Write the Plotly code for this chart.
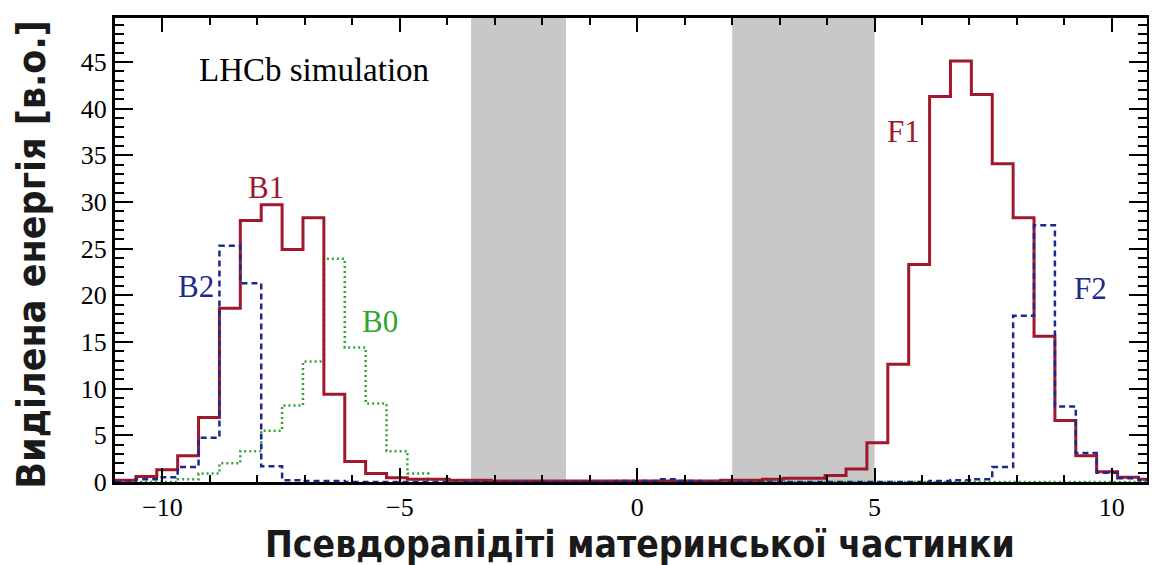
import numpy as np
import plotly.graph_objects as go

# ---- data ----
bin_lo, bin_hi, n_bins = -11.0, 11.0, 50
edges = np.linspace(bin_lo, bin_hi, n_bins + 1)

# series "1" (B1 / F1), red solid
red_vals = [0.2, 0.6, 1.3, 2.8, 6.9, 18.6, 28.0, 29.7, 24.9, 28.3,
            9.4, 2.2, 0.9, 0.45, 0.3, 0.3, 0.2, 0.2, 0.1, 0.1,
            0.1, 0.1, 0.1, 0.1, 0.1, 0.1, 0.1, 0.1, 0.1, 0.2,
            0.2, 0.3, 0.4, 0.4, 0.7, 1.4, 4.2, 12.6, 23.3, 41.3,
            45.1, 41.5, 34.1, 28.3, 15.6, 6.6, 2.8, 1.1, 0.5, 0.3]
# series "2" (B2 / F2), blue dashed
blue_vals = [0.0, 0.3, 0.5, 1.6, 4.75, 25.3, 21.3, 1.7, 0.2, 0.1,
             0.1, 0.0, 0.0, 0.0, 0.0, 0.0, 0.0, 0.0, 0.0, 0.0,
             0.0, 0.0, 0.0, 0.0, 0.1, 0.1, 0.3, 0.1, 0.0, 0.0,
             0.0, 0.0, 0.0, 0.0, 0.0, 0.0, 0.0, 0.0, 0.0, 0.1,
             0.2, 0.3, 1.6, 17.8, 27.5, 8.1, 3.1, 1.0, 0.4, 0.2]
# series "0" (B0), green dotted
green_vals = [0.0, 0.0, 0.0, 0.3, 0.9, 2.0, 3.3, 5.5, 8.2, 12.9,
              23.9, 14.4, 8.4, 3.3, 0.9, 0.3, 0.1, 0.0, 0.0, 0.0,
              0.0, 0.0, 0.0, 0.0, 0.0, 0.0, 0.0, 0.0, 0.0, 0.0,
              0.0, 0.0, 0.0, 0.0, 0.0, 0.0, 0.0, 0.0, 0.0, 0.0,
              0.0, 0.0, 0.0, 0.0, 0.0, 0.0, 0.0, 0.0, 0.0, 0.0]

bands = [(-3.5, -1.5), (2.0, 5.0)]

x_tick_vals = [-10, -5, 0, 5, 10]
y_tick_vals = [0, 5, 10, 15, 20, 25, 30, 35, 40, 45]

RED = "#a0182b"
BLUE = "#1c2a8c"
GREEN = "#2fa42f"

labels = [
    ("B1", -7.81, 31.5, RED),
    ("B2", -9.30, 20.9, BLUE),
    ("B0", -5.41, 17.2, GREEN),
    ("F1", 5.61, 37.5, RED),
    ("F2", 9.55, 20.7, BLUE),
]


def step_xy(vals):
    xs = list(edges[:-1]) + [edges[-1]]
    ys = list(vals) + [vals[-1]]
    return xs, ys


fig = go.Figure()

for x0, x1 in bands:
    fig.add_shape(type="rect", xref="x", yref="paper", x0=x0, x1=x1, y0=0, y1=1,
                  fillcolor="#c8c8c8", line_width=0, layer="below")

gx, gy = step_xy(green_vals)
fig.add_trace(go.Scatter(x=gx, y=gy, mode="lines", line_shape="hv",
                         line=dict(color=GREEN, width=2.5, dash="2px,3px"),
                         hoverinfo="skip", showlegend=False))
rx, ry = step_xy(red_vals)
fig.add_trace(go.Scatter(x=rx, y=ry, mode="lines", line_shape="hv",
                         line=dict(color=RED, width=3),
                         hoverinfo="skip", showlegend=False))
bx, by = step_xy(blue_vals)
fig.add_trace(go.Scatter(x=bx, y=by, mode="lines", line_shape="hv",
                         line=dict(color=BLUE, width=2.5, dash="6px,4px"),
                         hoverinfo="skip", showlegend=False))

serif = "Liberation Serif, Times New Roman, serif"
for txt, lx, ly, col in labels:
    fig.add_annotation(x=lx, y=ly, text=txt, showarrow=False,
                       font=dict(family=serif, size=31, color=col))

fig.add_annotation(x=-6.80, y=44.1, text="LHCb simulation", showarrow=False,
                   font=dict(family=serif, size=33, color="black"))

title_font = dict(family="Liberation Sans Narrow, DejaVu Sans Condensed, Liberation Sans, Arial, sans-serif",
                  size=37, color="#1a1a1a", weight="bold")
fig.add_annotation(xref="paper", yref="paper", x=0.509, y=0, yanchor="top",
                   yshift=-40, text="Псевдорапідіті материнської частинки",
                   showarrow=False, font=title_font, borderpad=0)
fig.add_annotation(xref="paper", yref="paper", x=0, y=0.49, xanchor="center",
                   xshift=-83, textangle=-90, text="Виділена енергія [в.о.]",
                   showarrow=False, font=dict(title_font, size=39))

fig.update_xaxes(range=[-11, 10.74], tickvals=x_tick_vals, ticks="inside",
                 ticklen=14, tickwidth=2, tickcolor="black",
                 minor=dict(dtick=1, ticks="inside", ticklen=7, tickwidth=2, tickcolor="black"),
                 showline=True, linecolor="black", linewidth=3, mirror="allticks",
                 showgrid=False, zeroline=False,
                 tickfont=dict(family=serif, size=26, color="black"))
fig.update_yaxes(range=[0, 49.7], tickvals=y_tick_vals, ticks="inside",
                 ticklen=18, tickwidth=2, tickcolor="black",
                 minor=dict(dtick=1, ticks="inside", ticklen=9, tickwidth=2, tickcolor="black"),
                 showline=True, linecolor="black", linewidth=3, mirror="allticks",
                 showgrid=False, zeroline=False,
                 tickfont=dict(family=serif, size=26, color="black"))

# page body has an 8px margin, so the figure is offset by (8, 8) in the window
fig.update_layout(width=1149, height=557, margin=dict(l=107, r=9, t=7, b=83),
                  plot_bgcolor="white", paper_bgcolor="white")

fig.write_html("out.html")
